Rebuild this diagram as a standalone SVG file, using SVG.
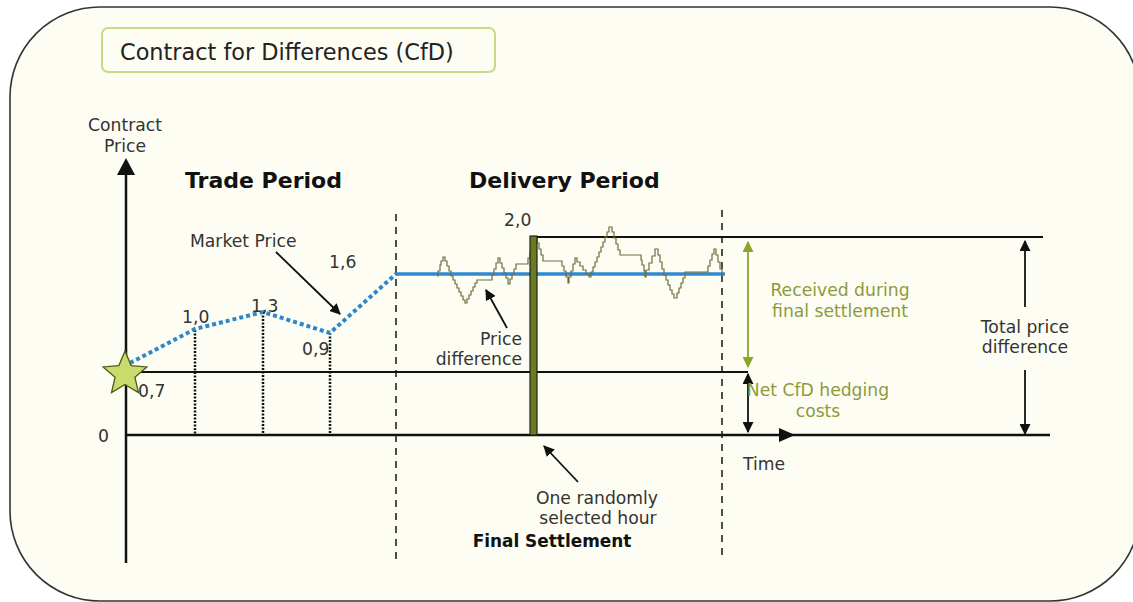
<svg xmlns="http://www.w3.org/2000/svg" width="1133" height="602" viewBox="0 0 1133 602">
<defs>
<style>
text{font-family:"DejaVu Sans","Verdana",sans-serif;fill:#333;font-size:17.2px}
.b{font-weight:bold;fill:#111}
.ol{fill:#8c9a3c}
.ax{stroke:#111;stroke-width:2.5;fill:none}
.thin{stroke:#111;stroke-width:2;fill:none}
.arr{stroke:#111;stroke-width:1.8;fill:none}
.dash{stroke:#222;stroke-width:1.6;stroke-dasharray:7 6;fill:none}
.vdot{stroke:#111;stroke-width:2.5;stroke-dasharray:2 1.5;fill:none}
</style>
<marker id="ah" viewBox="0 0 10 10" refX="9" refY="5" markerWidth="11" markerHeight="11" markerUnits="userSpaceOnUse" orient="auto-start-reverse"><path d="M0,0 L10,5 L0,10 z" fill="#111"/></marker>
<marker id="ahg" viewBox="0 0 10 10" refX="9" refY="5" markerWidth="11" markerHeight="11" markerUnits="userSpaceOnUse" orient="auto-start-reverse"><path d="M0,0 L10,5 L0,10 z" fill="#8aa52a"/></marker>
</defs>
<rect x="0" y="0" width="1133" height="602" fill="#ffffff"/>
<rect id="frame" x="10" y="7" width="1130" height="594" rx="90" ry="90" fill="#fdfdf3" stroke="#333" stroke-width="1.6"/>
<g id="title">
<rect x="102" y="28" width="393" height="44" rx="6" fill="#fdfdf3" stroke="#c6da8a" stroke-width="2"/>
<text x="120" y="60" style="font-size:22.4px;fill:#222">Contract for Differences (CfD)</text>
</g>
<g id="axes">
<line class="ax" x1="126" y1="563" x2="126" y2="174"/>
<path d="M117,175 L126,158 L135,175 z" fill="#111"/>
<line class="ax" x1="126" y1="435" x2="1050" y2="435"/>
<path d="M779,428 L795,435 L779,442 z" fill="#111"/>
<text x="125" y="131" text-anchor="middle">Contract</text>
<text x="125" y="152" text-anchor="middle">Price</text>
<text x="98" y="442">0</text>
<text x="743" y="470">Time</text>
</g>
<g id="periods">
<line class="dash" x1="396" y1="214" x2="396" y2="560"/>
<line class="dash" x1="722" y1="210" x2="722" y2="560"/>
<text class="b" x="185" y="188" style="font-size:22px">Trade Period</text>
<text class="b" x="469" y="188" style="font-size:22px">Delivery Period</text>
</g>
<g id="levels">
<line class="thin" x1="126" y1="372" x2="748" y2="372"/>
<line class="thin" x1="533" y1="237" x2="1043" y2="237"/>
</g>
<g id="market-price">
<line class="vdot" x1="195" y1="330" x2="195" y2="435"/>
<line class="vdot" x1="263" y1="312" x2="263" y2="435"/>
<line class="vdot" x1="330" y1="333" x2="330" y2="435"/>
<path d="M130,363 L195,329 L263,312 L330,333 L397,273" fill="none" stroke="#2f86c8" stroke-width="4" stroke-dasharray="4 3"/>
<line x1="397" y1="274" x2="725" y2="274" stroke="#2f8ad0" stroke-width="3.5"/>
<text x="190" y="247">Market Price</text>
<text x="329" y="268">1,6</text>
<text x="182" y="323">1,0</text>
<text x="251" y="312">1,3</text>
<text x="302" y="355">0,9</text>
<text x="138" y="397">0,7</text>
</g>
<g id="spot-price">
<path fill="none" stroke="#6e6e3e" stroke-width="1.2" d="M437,276 h1 v-5 h2 v-6 h1 v-4 h2 v-4 h2 v4 h2 v5 h2 v5 h2 v5 h2 v4 h2 v4 h2 v4 h2 v4 h2 v4 h2 v4 h2 v3 h2 v-4 h2 v-4 h2 v-4 h2 v-4 h2 v-4 h2 v-3 H492 v-5 h2 v-6 h2 v-6 h2 v-5 h2 v5 h2 v5 h2 v5 h2 v5 h2 v6 h2 v-5 h2 v-5 h2 v-5 h2 v-5 H528 v-6 h2 v-6 h2 v-7 h2 v-6"/>
<path fill="none" stroke="#6e6e3e" stroke-width="1.2" d="M537,238 v5 h2 v6 h2 v6 h2 v6 H562 v5 h2 v5 h2 v6 h2 v6 h1 v-6 h2 v-6 h2 v-7 h2 v-6 h2 v4 h3 v4 h3 v4 h3 v4 h3 v3 h2 v-5 h2 v-5 h2 v-5 h2 v-5 h2 v-5 h2 v-5 h2 v-5 h2 v-5 h2 v-5 h2 v-5 h3 v5 h2 v6 h2 v6 h2 v6 h2 v5 H641 v5 h1 v5 h2 v6 h1 v6 h1 v-7 h3 v-7 h3 v-7 h3 v-7 h3 v6 h2 v7 h2 v7 h2 v6 h2 v5 h2 v5 h2 v5 h2 v4 h2 v4 h3 v-5 h2 v-5 h2 v-5 h2 v-5 h2 v-6 H708 v-6 h2 v-6 h2 v-6 h2 v-5 h2 v6 h2 v7 h2 v7 h2 v7"/>
<text x="522" y="345" text-anchor="end">Price</text>
<text x="522" y="365" text-anchor="end">difference</text>
<line class="arr" x1="507" y1="328" x2="486" y2="290" marker-end="url(#ah)"/>
</g>
<g id="settlement-bar">
<rect x="530" y="236" width="7" height="199" fill="#6a7d1c" stroke="#222" stroke-width="1.2"/>
<text x="504" y="226">2,0</text>
</g>
<g id="star">
<path d="M125,351 L131.1,365.6 L146.9,366.9 L134.9,377.2 L138.5,392.6 L125,384.4 L111.5,392.6 L115.1,377.2 L103.1,366.9 L118.9,365.6 Z" fill="#c8dc6c" stroke="#4e5a1c" stroke-width="1.3"/>
</g>
<g id="connectors">
<line class="arr" x1="276" y1="252" x2="340" y2="314" marker-end="url(#ah)"/>
<line class="arr" x1="578" y1="482" x2="544" y2="446" marker-end="url(#ah)"/>
<line x1="748" y1="242" x2="748" y2="367" stroke="#8aa52a" stroke-width="1.8" marker-start="url(#ahg)" marker-end="url(#ahg)"/>
<line class="arr" x1="748" y1="374" x2="748" y2="432" marker-start="url(#ah)" marker-end="url(#ah)"/>
<line class="arr" x1="1025" y1="307" x2="1025" y2="241" marker-end="url(#ah)"/>
<line class="arr" x1="1025" y1="370" x2="1025" y2="434" marker-end="url(#ah)"/>
</g>
<g id="labels">
<text class="ol" x="840" y="296" text-anchor="middle">Received during</text>
<text class="ol" x="840" y="317" text-anchor="middle">final settlement</text>
<text class="ol" x="818" y="396" text-anchor="middle">Net CfD hedging</text>
<text class="ol" x="818" y="417" text-anchor="middle">costs</text>
<text x="1025" y="333" text-anchor="middle">Total price</text>
<text x="1025" y="353" text-anchor="middle">difference</text>
<text x="597" y="504" text-anchor="middle">One randomly</text>
<text x="598" y="524" text-anchor="middle">selected hour</text>
<text class="b" x="552" y="547" text-anchor="middle" style="font-size:16.9px">Final Settlement</text>
</g>
</svg>
